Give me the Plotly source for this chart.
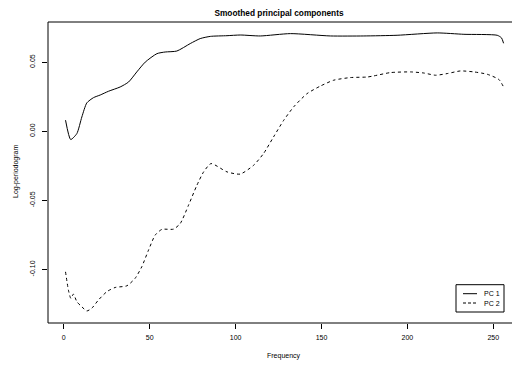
import plotly.graph_objects as go

# Frequencies and values
pc1_freq = [1, 4, 7.6, 10.5, 13.4, 17.3, 21.2, 26, 32.8, 37.7, 42.5, 47.4, 54.2, 59, 65.8,
            73.6, 79.4, 85.3, 95, 102.7, 114.4, 131.9, 155.2, 174.6, 194, 217.4, 232.9,
            252.3, 254.8, 256]
pc1_vals = [0.0080, -0.0060, -0.0017, 0.0103, 0.0205, 0.0243, 0.0262, 0.0289, 0.0320, 0.0356,
            0.0429, 0.0500, 0.0561, 0.0573, 0.0580, 0.0634, 0.0670, 0.0686, 0.0691, 0.0696,
            0.0689, 0.0706, 0.0689, 0.0689, 0.0694, 0.0711, 0.0701, 0.0694, 0.0675, 0.0636]

pc2_freq = [1, 2.7, 4.1, 5.6, 7.6, 10.5, 13.4, 16.3, 20.2, 25.1, 29.9, 36.7, 41.5, 45.4, 49.3,
            53.2, 57.1, 63.9, 67.8, 72.6, 77.5, 81.4, 85.7, 95, 102.7, 110.5, 116.3, 122.1,
            128, 133.8, 141.6, 149.4, 157.1, 166.8, 176.6, 180.4, 190.1, 201.8, 209.6, 216.4,
            223.2, 230.9, 238.7, 246.5, 253.3, 256]
pc2_vals = [-0.1017, -0.1150, -0.1209, -0.1178, -0.1233, -0.1270, -0.1300, -0.1280, -0.1220,
            -0.1160, -0.1130, -0.1118, -0.1064, -0.0980, -0.0860, -0.0751, -0.0710, -0.0708,
            -0.0667, -0.0535, -0.0390, -0.0294, -0.0234, -0.0294, -0.0310, -0.0246, -0.0161,
            -0.0041, 0.0079, 0.0176, 0.0272, 0.0327, 0.0369, 0.0388, 0.0392, 0.0400, 0.0424,
            0.0429, 0.0421, 0.0405, 0.0417, 0.0436, 0.0429, 0.0412, 0.0374, 0.0320]

x_ticks = [0, 50, 100, 150, 200, 250]
x_tick_labels = ["0", "50", "100", "150", "200", "250"]
y_ticks = [-0.10, -0.05, 0.00, 0.05]
y_tick_labels = ["-0.10", "-0.05", "0.00", "0.05"]
legend_labels = ["PC 1", "PC 2"]

FONT = "Liberation Sans, Arial, Helvetica, sans-serif"

# plot area geometry (pixels)
W, H = 512, 367
L, R, T, B = 48, 0, 22, 44
PW, PH = W - L - R, H - T - B


def px(xp):
    return (xp - L) / PW


def py(yp):
    return (H - B - yp) / PH


fig = go.Figure()
fig.add_trace(go.Scatter(x=pc1_freq, y=pc1_vals, mode="lines", name=legend_labels[0],
                         line=dict(color="black", width=1, shape="spline", smoothing=0.6)))
fig.add_trace(go.Scatter(x=pc2_freq, y=pc2_vals, mode="lines", name=legend_labels[1],
                         line=dict(color="black", width=1, dash="3px,3px", shape="spline", smoothing=0.6)))

axis_common = dict(showgrid=False, zeroline=False, showline=False, automargin=False,
                   tickmode="array", ticks="outside", ticklen=5, tickcolor="black",
                   tickwidth=1, tickfont=dict(size=7, family=FONT, color="black"))

# R-style legend box
leg_shapes = [
    dict(type="rect", xref="paper", yref="paper", x0=px(456), x1=px(504), y0=py(312), y1=py(284.7),
         line=dict(color="black", width=1), fillcolor="white", layer="above"),
    dict(type="line", xref="paper", yref="paper", x0=px(463), x1=px(477), y0=py(293.7), y1=py(293.7),
         line=dict(color="black", width=1), layer="above"),
    dict(type="line", xref="paper", yref="paper", x0=px(463), x1=px(477), y0=py(303), y1=py(303),
         line=dict(color="black", width=1, dash="3px,2px"), layer="above"),
]
leg_ann = [
    dict(text=legend_labels[0], xref="paper", yref="paper", x=px(481.5), y=py(293.7),
         xanchor="left", yanchor="middle", showarrow=False,
         font=dict(size=7, family=FONT, color="black")),
    dict(text=legend_labels[1], xref="paper", yref="paper", x=px(481.5), y=py(303),
         xanchor="left", yanchor="middle", showarrow=False,
         font=dict(size=7, family=FONT, color="black")),
]

fig.update_layout(
    template="none",
    width=W, height=H,
    margin=dict(l=L, r=R, t=T, b=B, pad=0),
    paper_bgcolor="white", plot_bgcolor="white",
    font=dict(family=FONT, size=7, color="black"),
    title=dict(text="<b>Smoothed principal components</b>", x=px(279), xref="paper",
               xanchor="center", y=1 - 13 / H, yanchor="middle",
               font=dict(size=8.3, family=FONT, color="black")),
    showlegend=False,
    hovermode=False,
    xaxis=dict(range=[-9.2, 260.9], tickvals=x_ticks, ticktext=x_tick_labels,
               ticklabelstandoff=3, **axis_common),
    yaxis=dict(range=[-0.1387, 0.0790], tickvals=y_ticks, ticktext=y_tick_labels,
               tickangle=-90, ticklabelstandoff=4, **axis_common),
    shapes=[dict(type="rect", xref="paper", yref="paper", x0=0, x1=1.05, y0=0, y1=1,
                 line=dict(color="black", width=1), fillcolor="rgba(0,0,0,0)")] + leg_shapes,
    annotations=[
        dict(text="Frequency", xref="paper", yref="paper", x=px(284), y=py(356),
             xanchor="center", yanchor="middle", showarrow=False,
             font=dict(size=7, family=FONT, color="black")),
        dict(text="Log-periodogram", xref="paper", yref="paper", x=px(16),
             y=py(172), xanchor="center", yanchor="middle", textangle=-90,
             showarrow=False, font=dict(size=7, family=FONT, color="black")),
    ] + leg_ann,
)

fig.write_html("out.html",
               config={"displayModeBar": False, "staticPlot": True},
               post_script="document.body.style.margin='0';document.body.style.overflow='hidden';")
